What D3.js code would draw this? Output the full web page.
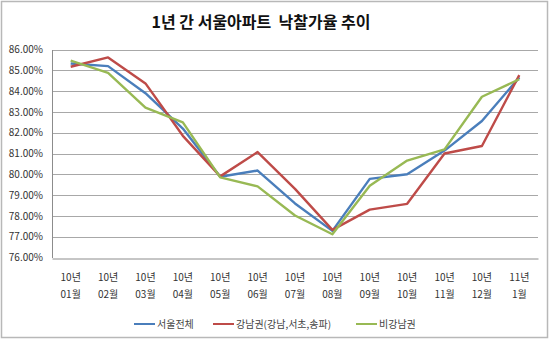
<!DOCTYPE html>
<html><head><meta charset="utf-8">
<script src="https://cdn.jsdelivr.net/npm/d3@7"></script>
<style>body{margin:0;background:#fff}svg{display:block}</style>
</head><body>
<svg id="c" width="550" height="340"></svg>
<script>
const yearLabels = ["10년","10년","10년","10년","10년","10년","10년","10년","10년","10년","10년","10년","11년"];
const monthLabels = ["01월","02월","03월","04월","05월","06월","07월","08월","09월","10월","11월","12월","1월"];
const seoul   = [85.33, 85.20, 83.90, 82.20, 79.88, 80.18, 78.60, 77.28, 79.78, 80.00, 81.14, 82.56, 84.66];
const gangnam = [85.17, 85.62, 84.37, 81.85, 79.90, 81.07, 79.30, 77.33, 78.30, 78.58, 81.00, 81.36, 84.77];
const others  = [85.46, 84.88, 83.20, 82.50, 79.85, 79.42, 78.02, 77.12, 79.45, 80.66, 81.20, 83.73, 84.57];
const seriesNames = ["서울전체","강남권(강남,서초,송파)","비강남권"];
const colors = ["#4a7ebb","#be4b48","#98b954"];
const yTicks = [76,77,78,79,80,81,82,83,84,85,86];
const title = "1년 간 서울아파트  낙찰가율 추이";

const svg = d3.select("#c");
const font = "'Noto Sans CJK KR', 'Noto Sans', sans-serif";
svg.append("rect").attr("x",1.5).attr("y",1.5).attr("width",546).attr("height",336)
  .attr("fill","#fff").attr("stroke","#b8b8b8").attr("stroke-width",1.5);

svg.append("text").attr("x",261).attr("y",28).attr("text-anchor","middle")
  .style("white-space","pre")
  .attr("font-family",font).attr("font-weight","bold").attr("font-size",16).attr("fill","#111").text(title);

const L=52, R=538, T=49.5, B=257.5;
const x = d3.scaleBand().domain(d3.range(13)).range([L,R]);
const y = d3.scaleLinear().domain([76,86]).range([B,T]);

const grid = svg.append("g");
grid.selectAll("line").data(yTicks.slice(1)).join("line")
  .attr("x1",L).attr("x2",R).attr("y1",d=>Math.round(y(d))+0.5).attr("y2",d=>Math.round(y(d))+0.5)
  .attr("stroke","#a8a8a8").attr("stroke-width",1.2);

const yAxis = svg.append("g").attr("transform",`translate(${L},0)`)
  .call(d3.axisLeft(y).tickValues(yTicks).tickSize(0).tickPadding(9).tickFormat(d=>d.toFixed(2)+"%"));
yAxis.select(".domain").attr("stroke","#8c8c8c");
yAxis.selectAll("text").attr("font-family",font).attr("font-size",10).attr("fill","#333");

const xAxis = svg.append("g").attr("transform",`translate(0,${Math.round(B)+0.5})`)
  .call(d3.axisBottom(x).tickSize(0).tickFormat(""));
xAxis.select(".domain").attr("stroke","#8c8c8c");
const xl = svg.append("g");
xl.selectAll("text.yr").data(yearLabels).join("text").attr("class","yr")
  .attr("x",(d,i)=>x(i)+x.bandwidth()/2).attr("y",281).attr("text-anchor","middle")
  .attr("font-family",font).attr("font-size",10).attr("fill","#333").text(d=>d);
xl.selectAll("text.mo").data(monthLabels).join("text").attr("class","mo")
  .attr("x",(d,i)=>x(i)+x.bandwidth()/2).attr("y",298).attr("text-anchor","middle")
  .attr("font-family",font).attr("font-size",10).attr("fill","#333").text(d=>d);

const line = d3.line().x((d,i)=>x(i)+x.bandwidth()/2).y(d=>y(d));
[seoul,gangnam,others].forEach((s,k)=>{
  svg.append("path").datum(s).attr("d",line).attr("fill","none")
    .attr("stroke",colors[k]).attr("stroke-width",2.4).attr("stroke-linejoin","round");
});

const legX = [134,213,356];
const leg = svg.append("g");
seriesNames.forEach((n,k)=>{
  leg.append("line").attr("x1",legX[k]).attr("x2",legX[k]+21).attr("y1",324).attr("y2",324)
    .attr("stroke",colors[k]).attr("stroke-width",2);
  leg.append("text").attr("x",legX[k]+23).attr("y",328).attr("font-family",font)
    .attr("font-size",10).attr("fill","#444").text(n);
});
</script>
</body></html>
